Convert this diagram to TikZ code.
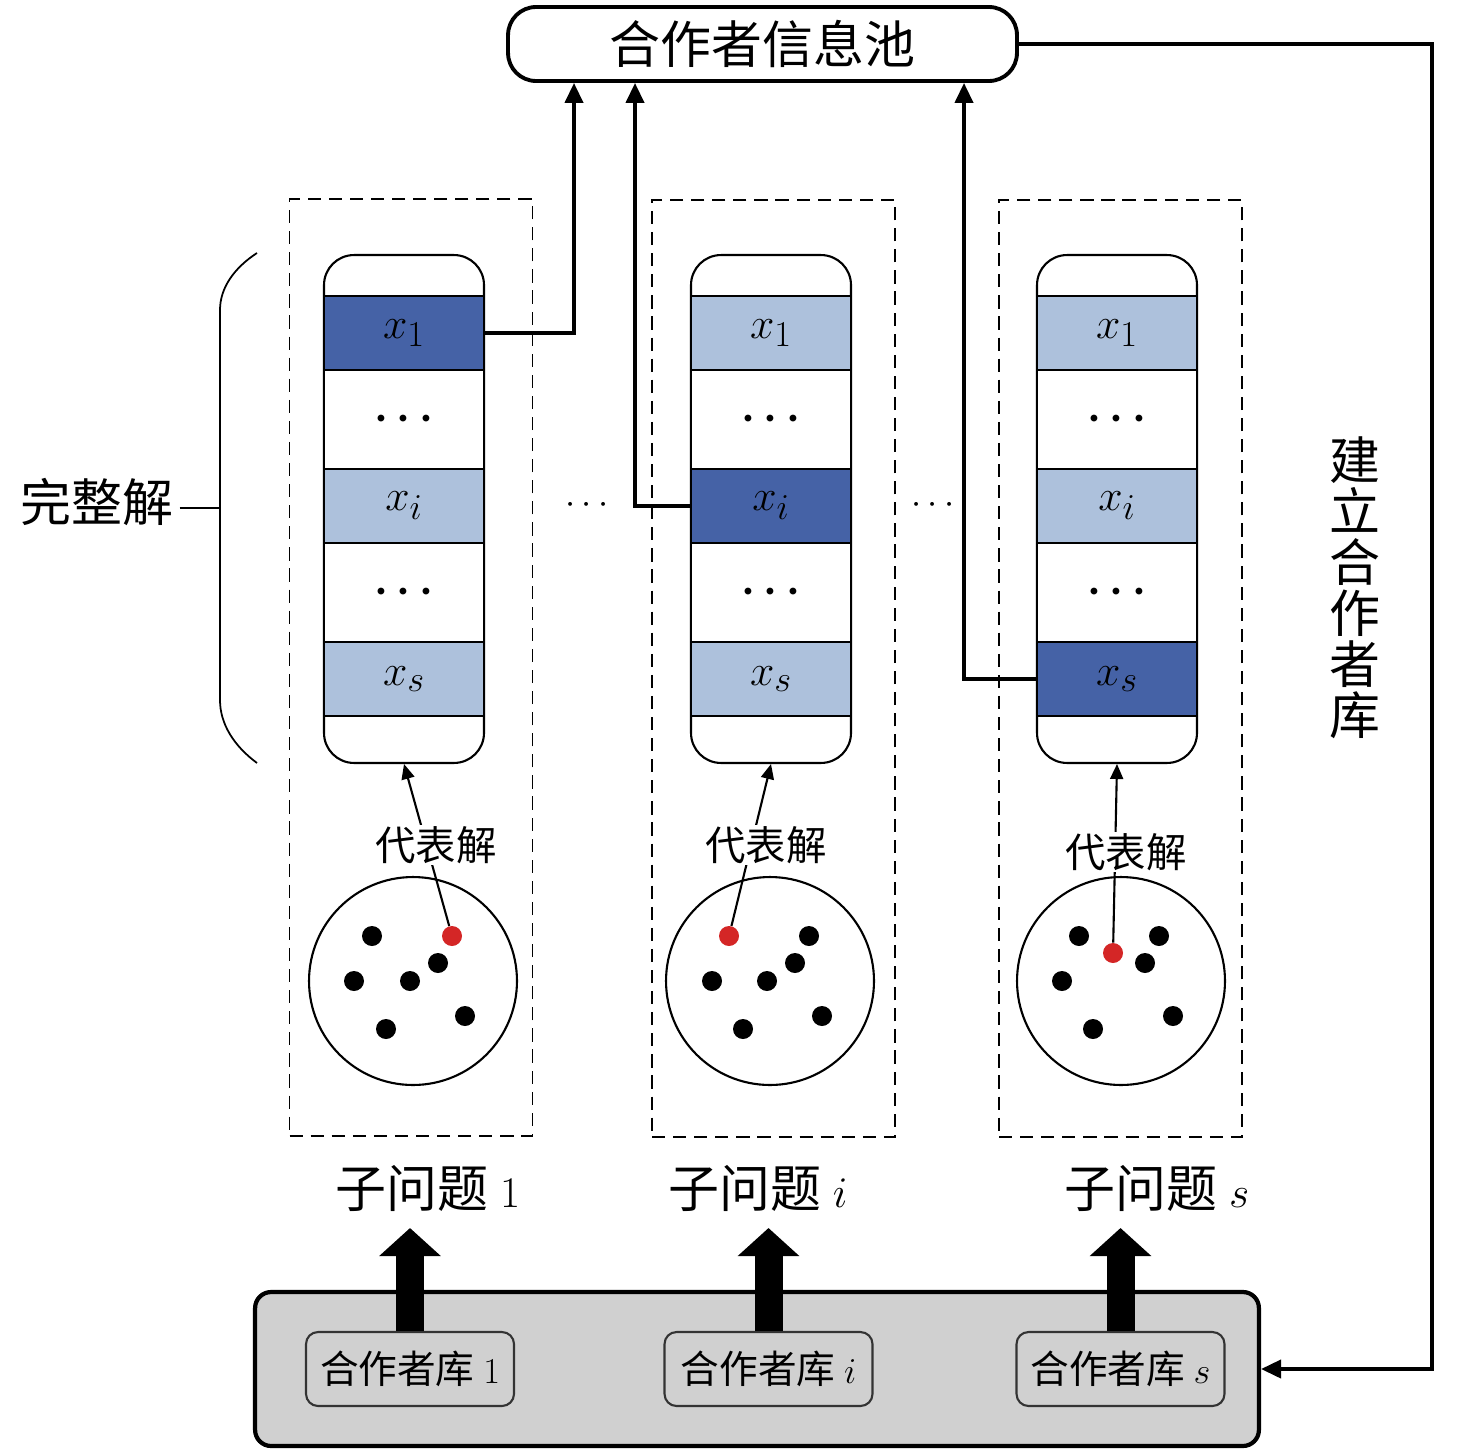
\documentclass[tikz,border=0pt]{standalone}
\usepackage{bm}
\usepackage{fontspec}
\setmainfont{Liberation Serif}
\newfontfamily\cjk{Noto Sans CJK SC}
\usepackage{tikz}
\usetikzlibrary{arrows.meta}
\definecolor{darkrow}{RGB}{69,98,166}
\definecolor{lightrow}{RGB}{173,193,220}
\definecolor{basegray}{RGB}{208,208,208}
\definecolor{bestred}{RGB}{212,38,38}

\begin{document}
\begin{tikzpicture}[x=0.02cm, y=-0.02cm,
	dashbox/.style={draw,dash pattern=on 7.5pt off 4.5pt,line width=1.1pt,minimum width=4.86cm,minimum height=18.74cm,inner sep=0pt},
	capsule/.style={draw,fill=white,rounded corners=0.6cm,line width=1.2pt,minimum width=3.2cm,minimum height=10.16cm,inner sep=0pt},
	cell/.style={draw,line width=1.2pt,minimum width=3.2cm,inner sep=0pt,outer sep=0pt,font=\fontsize{31}{36}\selectfont},
	gapcell/.style={cell,fill=white,minimum height=1.98cm},
	varcell/.style={cell,fill=lightrow,minimum height=1.48cm},
	pickcell/.style={cell,fill=darkrow,minimum height=1.48cm},
	pop/.style={draw,circle,line width=1.2pt,minimum size=4.16cm,inner sep=0pt},
	ind/.style={circle,fill=black,minimum size=0.4cm,inner sep=0pt},
	best/.style={circle,fill=bestred,minimum size=0.4cm,inner sep=0pt},
	big/.style={font=\cjk\fontsize{29}{34}\selectfont},
	rep/.style={fill=white,inner sep=1pt,font=\cjk\fontsize{23}{28}\selectfont},
	lib/.style={draw=black!80,rounded corners=0.24cm,line width=1.2pt,minimum width=4.16cm,minimum height=1.48cm,font=\cjk\fontsize{22}{26}\selectfont},
	link/.style={line width=2.2pt,-{Triangle[length=0.4cm,width=0.36cm]}},
	pointer/.style={line width=1.2pt,-{Triangle[length=0.3cm,width=0.26cm]}},
	fat/.style={line width=0.56cm,-{Triangle[length=0.56cm,width=1.2cm]}}]
	\useasboundingbox (0,0) rectangle (1476,1453);

	% pool on top
	\node[draw,rounded corners=0.56cm,line width=2.2pt,minimum width=10.18cm,minimum height=1.48cm,big] (pool) at (762.5,44) {合作者信息池};

	% subproblem 1
	\node[dashbox] (box1) at (411,667.5) {};
	\node[capsule] (sol1) at (404,509) {};
	\node[pickcell] (c1x1) at (404,333) {$x_1$};
	\node[gapcell] (c1g1) at (404,419.5) {$\bm{\cdots}$};
	\node[varcell] (c1xi) at (404,506) {$x_i$};
	\node[gapcell] (c1g2) at (404,592.5) {$\bm{\cdots}$};
	\node[varcell] (c1xs) at (404,679) {$x_s$};
	\node[pop] (pop1) at (413,981) {};
	\node[ind] (p1a) at (372,936) {};
	\node[best] (best1) at (452,936) {};
	\node[ind] (p1b) at (438,963) {};
	\node[ind] (p1c) at (354,981) {};
	\node[ind] (p1d) at (410,981) {};
	\node[ind] (p1e) at (386,1029) {};
	\node[ind] (p1f) at (465,1016) {};
	\draw[pointer] (best1) -- (sol1.south);
	\node[rep] (rep1) at (436,845) {代表解};
	\node[big] (sub1) at (428,1188) {子问题 $1$};

	% subproblem i
	\node[dashbox] (box2) at (773.5,668.5) {};
	\node[capsule] (sol2) at (771,509) {};
	\node[varcell] (c2x1) at (771,333) {$x_1$};
	\node[gapcell] (c2g1) at (771,419.5) {$\bm{\cdots}$};
	\node[pickcell] (c2xi) at (771,506) {$x_i$};
	\node[gapcell] (c2g2) at (771,592.5) {$\bm{\cdots}$};
	\node[varcell] (c2xs) at (771,679) {$x_s$};
	\node[pop] (pop2) at (770,981) {};
	\node[best] (best2) at (729,936) {};
	\node[ind] (p2a) at (809,936) {};
	\node[ind] (p2b) at (795,963) {};
	\node[ind] (p2c) at (712,981) {};
	\node[ind] (p2d) at (767,981) {};
	\node[ind] (p2e) at (743,1029) {};
	\node[ind] (p2f) at (822,1016) {};
	\draw[pointer] (best2) -- (sol2.south);
	\node[rep] (rep2) at (766,845) {代表解};
	\node[big] (sub2) at (758,1188) {子问题 $i$};

	% subproblem s
	\node[dashbox] (box3) at (1120.5,668.5) {};
	\node[capsule] (sol3) at (1117,509) {};
	\node[varcell] (c3x1) at (1117,333) {$x_1$};
	\node[gapcell] (c3g1) at (1117,419.5) {$\bm{\cdots}$};
	\node[varcell] (c3xi) at (1117,506) {$x_i$};
	\node[gapcell] (c3g2) at (1117,592.5) {$\bm{\cdots}$};
	\node[pickcell] (c3xs) at (1117,679) {$x_s$};
	\node[pop] (pop3) at (1121,981) {};
	\node[ind] (p3a) at (1079,936) {};
	\node[ind] (p3b) at (1159,936) {};
	\node[best] (best3) at (1113,953) {};
	\node[ind] (p3c) at (1145,963) {};
	\node[ind] (p3d) at (1062,981) {};
	\node[ind] (p3e) at (1093,1029) {};
	\node[ind] (p3f) at (1173,1016) {};
	\draw[pointer] (best3) -- (sol3.south);
	\node[rep] (rep3) at (1126,852) {代表解};
	\node[big] (sub3) at (1157,1188) {子问题 $s$};

	\node[font=\fontsize{22}{26}\selectfont] (mid1) at (587,505) {$\cdots$};
	\node[font=\fontsize{22}{26}\selectfont] (mid2) at (933,505) {$\cdots$};

	% complete solution brace
	\node[big] (whole) at (97,502) {完整解};
	\coordinate (brc) at (220,508);
	\draw[line width=1pt] (whole.east |- brc) -- (brc);
	\draw[line width=1pt] (257,253) .. controls (234,268) and (220,288) .. (220,310) -- (220,700) .. controls (220,724) and (234,746) .. (257,763);

	% links up to the pool
	\coordinate (up1) at (574,200);
	\coordinate (up2) at (635,200);
	\coordinate (up3) at (964,200);
	\draw[link] (c1x1.east) -| (pool.south -| up1);
	\draw[link] (c2xi.west) -| (pool.south -| up2);
	\draw[link] (c3xs.west) -| (pool.south -| up3);

	% libraries
	\node[draw,fill=basegray,rounded corners=0.32cm,line width=2.4pt,minimum width=20.08cm,minimum height=3.08cm] (base) at (757,1369) {};
	\node[lib] (lib1) at (410,1369) {合作者库 $1$};
	\node[lib] (lib2) at (768.5,1369) {合作者库 $i$};
	\node[lib] (lib3) at (1120.5,1369) {合作者库 $s$};
	\coordinate (tip1) at (410,1228);
	\coordinate (tip2) at (768.5,1228);
	\coordinate (tip3) at (1120.5,1228);
	\draw[fat] (lib1.north) -- (tip1);
	\draw[fat] (lib2.north) -- (tip2);
	\draw[fat] (lib3.north) -- (tip3);

	% feedback
	\node[font=\cjk\fontsize{29}{29}\selectfont,align=center] (build) at (1355,588) {建\\立\\合\\作\\者\\库};
	\coordinate (fb) at (1432,700);
	\draw[link] (pool.east) -| (fb) |- (base.east);
\end{tikzpicture}
\end{document}
